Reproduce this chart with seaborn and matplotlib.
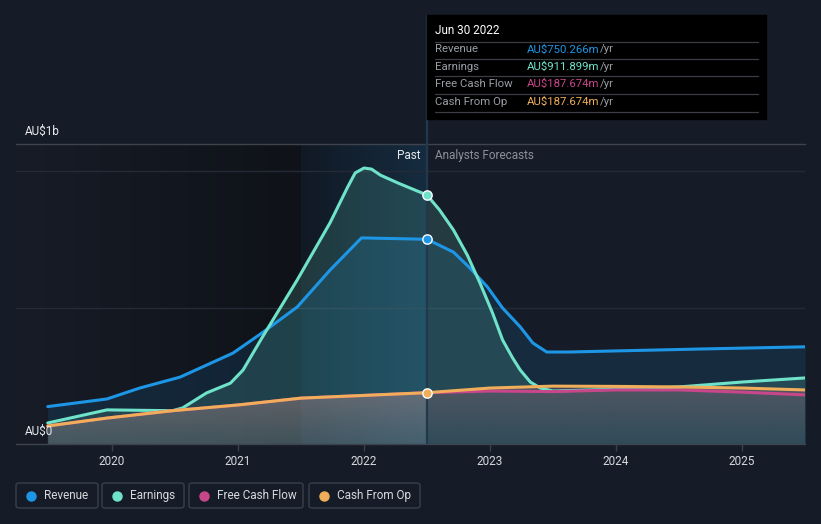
import numpy as np
import seaborn as sns
import matplotlib.pyplot as plt
from matplotlib.patches import Rectangle, FancyBboxPatch
from matplotlib.lines import Line2D

# values in AU$ millions, x in decimal years (past + analyst forecasts)
rev_x = [2019.49, 2019.96, 2020.22, 2020.54, 2020.75, 2020.96, 2021.20, 2021.47, 2021.73, 2021.98,
         2022.5, 2022.71, 2022.84, 2022.98, 2023.10, 2023.24, 2023.34, 2023.45, 2023.63, 2024.0, 2024.67, 2025.5]
rev_y = [137, 165, 205, 245, 289, 333, 410, 502, 637, 755,
         750, 703, 645, 575, 498, 429, 370, 337, 337, 341, 348, 356]

earn_x = [2019.49, 2019.96, 2020.48, 2020.56, 2020.75, 2020.94, 2021.04, 2021.18, 2021.47, 2021.73, 2021.87,
          2021.93, 2022.0, 2022.06, 2022.13, 2022.27, 2022.5, 2022.60, 2022.71, 2022.82, 2022.92, 2023.02,
          2023.10, 2023.18, 2023.24, 2023.32, 2023.40, 2023.5, 2024.0, 2024.5, 2025.0, 2025.5]
earn_y = [77, 125, 122, 132, 187, 223, 271, 381, 601, 810, 941,
          993, 1011, 1007, 985, 956, 912, 857, 784, 692, 590, 480,
          381, 315, 271, 227, 205, 194, 201, 209, 227, 242]

cfo_x = [2019.49, 2019.96, 2020.48, 2021.0, 2021.5, 2022.5, 2023.0, 2023.5, 2024.0, 2024.5, 2025.0, 2025.5]
cfo_y = [66, 95, 122, 143, 168, 188, 205, 212, 211, 209, 205, 198]

fcf_x = [2019.49, 2019.96, 2020.48, 2021.0, 2021.5, 2022.5, 2023.0, 2023.5, 2024.0, 2024.5, 2025.0, 2025.5]
fcf_y = [66, 95, 122, 143, 168, 188, 194, 192, 198, 198, 190, 180]

names = ["Revenue", "Earnings", "Free Cash Flow", "Cash From Op"]
colors = ["#1e96e6", "#6fe3c9", "#c8468a", "#f0ae5a"]
tip_values = ["AU$750.266m", "AU$911.899m", "AU$187.674m", "AU$187.674m"]
year_ticks = [2020, 2021, 2022, 2023, 2024, 2025]

sns.set_theme(style="dark")
plt.rcParams['font.family'] = ['Roboto', 'DejaVu Sans']

BG = "#161c27"
W, H = 821, 524
XMIN, XMAX, YMAX = 2019.238, 2025.5, 1099
SPLIT = 2022.5


def fx(px):
    return px / W


def fy(py):
    return 1 - py / H


def hgrad(c_left, c_right):
    g = np.linspace(0, 1, 256)[:, None]
    c0 = np.array(c_left) / 255
    c1 = np.array(c_right) / 255
    return (c0 * (1 - g) + c1 * g)[None]


def vgrad(rgb, a_top, a_bottom):
    a = np.linspace(a_top, a_bottom, 128)[:, None]
    img = np.zeros((128, 1, 4))
    img[:, :, :3] = np.array(rgb) / 255
    img[:, :, 3] = a
    return img


fig = plt.figure(figsize=(W / 100, H / 100), dpi=100, facecolor=BG)
ax = fig.add_axes([fx(16), fy(444), (805 - 16) / W, (444 - 144) / H])
ax.set_facecolor(BG)

# background shading: dark past, highlighted last year before the split
ax.imshow(hgrad([23, 28, 39], [15, 18, 24]), extent=[XMIN, 2021.5, 0, YMAX], aspect="auto", zorder=0)
ax.imshow(hgrad([17, 25, 36], [21, 44, 64]), extent=[2021.5, SPLIT, 0, YMAX], aspect="auto", zorder=0)

for yv in [500, 1000]:
    ax.axhline(yv, color="#242b37", lw=1, zorder=1)

# fills
ax.fill_between(rev_x, rev_y, 0, color=colors[0], alpha=0.13, lw=0, zorder=2)
ax.fill_between(earn_x, earn_y, 0, color=colors[1], alpha=0.16, lw=0, zorder=2)
cash_poly = ax.fill_between(cfo_x, cfo_y, 0, color="none", lw=0, zorder=2)
top = max(cfo_y)
im_past = ax.imshow(vgrad([200, 150, 150], 0.42, 0.2), extent=[XMIN, SPLIT, 0, top],
                    aspect="auto", zorder=2.5)
im_past.set_clip_path(cash_poly.get_paths()[0], transform=ax.transData)
im_fut = ax.imshow(vgrad([180, 120, 130], 0.3, 0.08), extent=[SPLIT, XMAX, 0, top],
                   aspect="auto", zorder=2.5)
im_fut.set_clip_path(cash_poly.get_paths()[0], transform=ax.transData)

ax.axvline(SPLIT, color="#22384d", lw=1.6, zorder=3)

# lines
sns.lineplot(x=rev_x, y=rev_y, ax=ax, color=colors[0], lw=2.2, zorder=4)
sns.lineplot(x=earn_x, y=earn_y, ax=ax, color=colors[1], lw=2.2, zorder=5)
sns.lineplot(x=fcf_x, y=fcf_y, ax=ax, color=colors[2], lw=2.2, zorder=5)
sns.lineplot(x=cfo_x, y=cfo_y, ax=ax, color=colors[3], lw=2.2, zorder=6)

for xs, ys, c in [(rev_x, rev_y, colors[0]), (earn_x, earn_y, colors[1]), (cfo_x, cfo_y, colors[3])]:
    i = xs.index(SPLIT)
    ax.scatter([xs[i]], [ys[i]], s=45, color=c, edgecolor="white", linewidth=1, zorder=8)

ax.set_xlim(XMIN, XMAX)
ax.set_ylim(0, YMAX)
ax.set_xticks(year_ticks)
ax.set_xticklabels([str(y) for y in year_ticks])
ax.set_yticks([])
ax.tick_params(axis="x", length=5, width=1, color="#3a404b", pad=3, labelsize=8.5, labelcolor="#d6d9de", bottom=True)
ax.grid(False)
for s in ["left", "right"]:
    ax.spines[s].set_visible(False)
for s in ["bottom", "top"]:
    ax.spines[s].set_color("#3e434d")
    ax.spines[s].set_linewidth(1)

# split marker line above the plot area, up to the tooltip
fig.add_artist(Line2D([fx(426.5), fx(426.5)], [fy(16), fy(144)], color="#22384d", lw=1.6, zorder=3))

# labels on the plot
fig.text(fx(25), fy(131), "AU$1b", color="#e8eaed", fontsize=8.5, va="center", ha="left")
fig.text(fx(25), fy(431), "AU$0", color="#e8eaed", fontsize=8.5, va="center", ha="left")
fig.text(fx(420), fy(156), "Past", color="#e8eaed", fontsize=8.5, va="center", ha="right")
fig.text(fx(435), fy(156), "Analysts Forecasts", color="#8b9099", fontsize=8.5, va="center", ha="left")

# tooltip box
fig.add_artist(Rectangle((fx(427), fy(119)), (766 - 427) / W, (119 - 15) / H,
                         transform=fig.transFigure, color="black", zorder=10))
fig.text(fx(435), fy(31), "Jun 30 2022", color="white", fontsize=8.5, va="center", zorder=11)
for yl in [41.5, 58.5, 76, 93.5, 111.5]:
    fig.add_artist(Line2D([fx(435), fx(758)], [fy(yl), fy(yl)], color="#3a3d44", lw=0.9, zorder=11))
for k, (nm, val, c) in enumerate(zip(names, tip_values, colors)):
    yy = fy(49.5 + k * 17.4)
    fig.text(fx(435), yy, nm, color="#9a9ea6", fontsize=8.2, va="center", zorder=11)
    fig.text(fx(527), yy, val, color=c, fontsize=8.2, va="center", zorder=11)
    fig.text(fx(600), yy, "/yr", color="#9a9ea6", fontsize=8.2, va="center", zorder=11)

# legend boxes
boxes = [(16, 98), (102, 184), (189, 303), (309, 420)]
for (l, r), nm, c in zip(boxes, names, colors):
    fig.add_artist(FancyBboxPatch((fx(l), fy(508)), (r - l) / W, 25 / H,
                                  boxstyle="round,pad=0,rounding_size=0.004",
                                  transform=fig.transFigure, facecolor="none",
                                  edgecolor="#3a404b", lw=1))
    fig.add_artist(Line2D([fx(l + 15)], [fy(495.5)], marker="o", markersize=6.5,
                          color=c, lw=0))
    fig.text(fx(l + 28), fy(495.5), nm, color="#d6d9de", fontsize=8.5, va="center")

fig.savefig("out.png", dpi=100, facecolor=BG)
